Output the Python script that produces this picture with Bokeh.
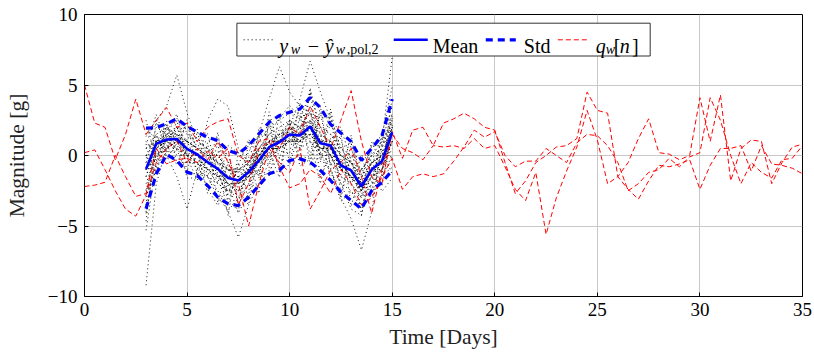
from bokeh.plotting import figure
from bokeh.models import Range1d, FixedTicker, BoxAnnotation, Arrow, Label
from bokeh.embed import file_html
from bokeh.resources import INLINE

# ---------------- data ----------------
days_q = [0.0, 0.5, 1.0, 1.5, 2.0, 2.5, 3.0, 3.5, 4.0, 4.5, 5.0, 5.5, 6.0, 6.5, 7.0, 7.5,
          8.0, 8.5, 9.0, 9.5, 10.0, 10.5, 11.0, 11.5, 12.0, 12.5, 13.0, 13.5, 14.0, 14.5,
          15.0, 15.5, 16.0, 16.5, 17.0, 17.5, 18.0, 18.5, 19.0, 19.5, 20.0, 20.5, 21.0,
          21.5, 22.0, 22.5, 23.0, 23.5, 24.0, 24.5, 25.0, 25.5, 26.0, 26.5, 27.0, 27.5,
          28.0, 28.5, 29.0, 29.5, 30.0, 30.5, 31.0, 31.5, 32.0, 32.5, 33.0, 33.5, 34.0,
          34.5, 35.0]

q_1 = [5.0, 2.3, 2.0, -0.3, 1.5, 4.0, 1.5, 2.5, 3.4, 2.0, 2.3, 1.0, 2.0, 2.4, 2.6, 0.0,
       -0.5, 1.0, 1.2, 0.5, 2.0, 1.5, 3.5, 2.0, 0.5, 2.5, 4.6, 1.0, -1.5, -2.0, 1.7, -0.2,
       1.8, 2.0, 0.7, 2.3, 2.6, 3.0, 2.6, 2.0, 1.8, -0.5, -2.7, -1.8, -0.5, 0.0, 0.6, 0.7,
       1.2, 4.5, 3.2, 3.0, -1.5, -0.5, 1.2, 2.6, 0.2, 0.1, -0.3, 0.0, 4.1, 1.0, 4.3, -1.8,
       0.5, 1.1, 1.0, -2.0, -0.5, 0.6, 0.8]
q_2 = [0.2, 0.4, -1.0, -2.5, -3.8, -4.3, -2.8, -0.5, 0.5, 1.0, -0.5, 0.5, -0.3, 1.0,
       -0.5, -2.0, -5.0, -2.0, 0.5, -0.5, -1.2, 0.5, -3.8, -2.5, -1.0, -0.5, 0.5, -1.5,
       -4.1, -1.0, 1.5, 0.5, 0.2, -0.3, 0.7, 0.6, 0.7, 0.5, 1.2, 0.5, 0.7, -0.8, -2.4,
       -3.2, -1.2, -5.6, -3.0, -1.1, 0.6, 3.2, 1.1, -2.0, -1.5, -2.4, -3.1, -1.8, -0.7,
       -0.8, -0.6, -0.3, -2.4, -0.7, 0.5, 0.5, 0.7, -1.1, 0.7, -0.6, -0.7, -0.9, -1.3]
q_3 = [-2.2, -2.1, -1.9, 0.0, -1.5, -2.9, -2.7, 0.5, -0.6, -0.3, -0.2, -0.5, 0.3, -0.2,
       0.5, -3.5, -2.0, 0.5, 1.0, -0.8, -2.3, -2.0, -1.0, -1.5, -2.7, -1.0, -2.0, -3.5,
       -3.0, -1.5, -0.2, -2.4, -1.5, -1.3, -1.5, -1.3, -0.4, 0.6, 1.8, 1.3, 1.7, 0.0,
       -0.8, -0.4, -0.4, 0.5, 0.0, -0.5, 0.9, 1.5, 1.4, 0.7, -0.5, -2.5, -2.0, -1.2, -1.0,
       -0.2, -0.8, -0.1, 0.2, 4.1, 2.5, 0.0, -2.0, -0.5, -1.2, -1.6, -0.3, -0.2, 0.7]

days_r = [3.0, 3.5, 4.0, 4.5, 5.0, 5.5, 6.0, 6.5, 7.0, 7.5, 8.0, 8.5, 9.0, 9.5, 10.0,
          10.5, 11.0, 11.5, 12.0, 12.5, 13.0, 13.5, 14.0, 14.5, 15.0]

res_mean = [-0.95, 0.83, 1.13, 1.17, 0.47, 0.07, -0.47, -0.95, -1.6, -1.77, -1.18, -0.35,
            0.59, 0.94, 1.49, 1.42, 2.06, 0.87, 0.71, -0.71, -1.06, -2.2, -1.0, -0.4, 1.65]
res_std_upper = [1.94, 1.97, 2.25, 2.6, 2.06, 1.65, 1.3, 1.06, 0.35, 0.12, 0.7, 1.53, 2.36,
                 2.83, 3.07, 3.3, 4.1, 3.4, 2.2, 1.6, 1.0, -0.35, 0.5, 1.4, 4.0]
res_std_lower = [-3.78, -1.3, 0.07, -0.35, -1.18, -1.42, -2.13, -2.96, -3.43, -3.55, -2.96,
                 -2.13, -1.3, -1.06, -0.35, -0.24, -0.47, -1.06, -1.77, -2.6, -3.2, -3.78,
                 -2.48, -1.9, -1.06]

res_01 = [-9.2, -2.0, 0.5, 1.0, 0.3, -0.5, -1.0, -1.5, -2.5, -2.0, -1.5, 0.0, 1.0, 1.5, 2.0, 1.0, 2.5, 1.0, 0.0, -1.5, -2.0, -3.0, -1.5, -1.0, 2.0]
res_02 = [-5.3, -0.5, 1.5, 2.0, 1.0, 0.5, 0.0, -0.5, -1.0, -1.2, -0.5, 0.5, 1.5, 1.0, 2.5, 2.0, 3.0, 1.5, 1.0, 0.0, -0.5, -1.5, -0.5, 0.5, 3.0]
res_03 = [1.5, 2.5, 3.5, 5.7, 3.0, 1.0, 0.5, -0.5, -1.0, -1.5, -1.0, 0.0, 0.5, 0.5, 1.0, 1.5, 2.0, 0.5, 0.5, -1.0, -1.5, -2.5, -1.5, -0.5, 1.0]
res_04 = [0.5, 1.5, 0.0, -1.5, -3.8, -1.0, 2.5, 4.0, 3.5, 0.5, -0.5, 1.0, 2.0, 2.5, 3.0, 2.5, 4.5, 2.0, 1.5, 0.5, -0.5, -1.0, 0.0, 1.0, 3.5]
res_05 = [-1.5, 0.5, 1.0, 0.5, 0.0, -0.5, -1.0, -2.0, -2.5, -3.0, -1.0, 1.5, 4.0, 6.3, 4.5, 3.5, 3.0, 1.0, 0.5, -1.0, -1.5, -2.5, -1.0, -0.5, 1.5]
res_06 = [-0.5, 1.0, 1.5, 1.5, 1.0, 0.5, -0.5, -1.0, -1.5, -2.0, -1.5, -0.5, 0.5, 1.0, 2.0, 4.0, 6.7, 4.5, 2.5, 0.0, -1.0, -2.0, -0.5, 0.0, 2.0]
res_07 = [-2.0, 0.0, 0.5, 1.0, 0.0, -0.5, -1.5, -2.5, -4.0, -5.8, -3.5, -2.0, -0.5, 0.5, 1.0, 1.0, 1.5, 0.5, 0.0, -1.0, -1.5, -2.5, -1.0, -1.0, 1.0]
res_08 = [0.0, 1.0, 1.5, 1.0, 0.5, 0.0, -0.5, -1.0, -2.0, -2.0, -1.0, 0.0, 1.0, 1.5, 1.5, 1.0, 2.0, 0.0, -1.0, -3.0, -4.5, -6.7, -4.0, 1.0, 7.0]
res_09 = [2.5, -0.45, 2.2, 0.4, 2.55, -1.45, 0.9, -3.35, -0.45, -3.55, 1.0, -1.6, 2.4, -1.15, 2.35, -0.2, 4.6, -0.45, 3.1, -2.8, 0.85, -4.25, 0.2, -1.4, 4.15]
res_10 = [-3.5, 2.6, 0.15, 2.5, -1.15, 1.7, -1.5, 0.85, -3.5, -0.5, -3.15, 1.45, -0.85, 2.85, -0.55, 2.85, 0.0, 3.05, -0.7, 1.6, -3.6, -0.85, -2.5, 1.6, -0.35]
res_11 = [1.35, 2.25, 1.8, 2.65, 1.6, 0.65, 1.05, 1.25, -0.45, -1.25, 0.25, 1.45, 1.5, 2.65, 3.55, 2.7, 3.0, 2.65, 2.7, 0.55, 0.85, -1.35, 0.65, 0.75, 2.65]
res_12 = [-2.95, -0.75, 0.25, 0.4, -1.3, -1.3, -1.5, -2.95, -3.9, -3.05, -2.1, -2.15, -1.05, -0.2, -0.4, 0.0, -0.25, -0.25, -1.1, -3.25, -2.55, -3.75, -2.65, -1.4, -0.85]
res_13 = [-0.1, -1.25, 1.35, 2.95, -0.15, -1.75, 0.2, -0.55, -4.25, 0.2, -0.65, -1.45, 3.1, 0.35, 0.15, 3.75, 1.15, -2.0, 1.3, 1.2, -2.1, 0.0, -0.4, -2.2, 2.15]
res_14 = [-4.65, 1.45, -0.2, 0.85, 2.25, 0.35, -2.7, 0.25, 0.1, -2.5, -3.5, 0.35, 0.25, -1.55, 2.5, 0.7, 4.8, 1.55, -1.7, -1.35, 1.45, -2.55, -2.95, 0.45, -1.35]
res_15 = [1.9, 1.15, 0.45, 1.9, 1.9, 1.85, 0.05, -1.95, 0.7, 0.2, -0.8, -1.25, -1.4, 1.3, 2.5, -0.75, -0.25, 1.3, 2.1, 2.0, -0.45, -2.9, 0.8, 1.4, 4.9]
res_16 = [-2.4, -1.1, 2.45, -0.5, -0.5, -0.55, -2.35, -3.55, -2.0, -4.1, -2.6, 2.0, 1.15, -0.75, -0.7, 1.8, 3.45, -1.55, 0.1, -1.95, -3.8, -4.25, -0.85, -2.55, -1.6]
res_17 = [0.75, 2.9, 0.8, -0.65, 1.25, 1.25, 1.55, -1.35, -2.75, -0.7, 1.15, 0.0, -0.3, 1.9, 1.15, 3.4, -0.7, 3.5, -0.9, -3.0, 0.0, -0.15, -1.9, 1.4, 1.9]
res_18 = [-4.1, 0.35, 1.9, 1.45, -1.6, -1.6, -0.8, 1.65, -3.1, -3.95, -0.1, -2.7, 2.55, -0.2, 2.0, 0.5, 2.3, 0.2, 3.3, -0.3, -1.7, -1.7, 0.95, -0.75, 2.9]
res_19 = [1.0, 0.0, 1.0, 2.0, 0.0, 0.5, 0.5, -1.5, -1.0, -2.0, -1.0, 0.5, 0.5, 1.5, 1.0, 2.0, 1.0, 0.5, 0.5, -1.0, -0.5, -2.0, -1.0, -0.5, 1.5]
res_20 = [-1.0, 1.0, 0.5, 1.0, 1.0, -0.5, -0.5, -1.5, -1.5, -1.5, -1.5, -0.5, 1.0, 1.0, 1.5, 1.5, 2.0, 1.0, 1.0, -0.5, -1.5, -2.0, -1.0, -0.5, 1.0]
res_21 = [0.0, 1.5, 2.0, 1.0, 0.0, -1.0, -1.5, -2.0, -2.5, -2.5, -2.0, -1.0, 0.0, 0.5, 1.0, 2.0, 3.0, 2.0, 1.5, 0.5, 0.0, -1.0, 0.0, 0.5, 2.5]
res_22 = [-1.0, 0.0, 0.5, 1.5, 1.0, 0.5, 0.0, -0.5, -1.0, -1.0, -0.5, 0.5, 1.5, 2.0, 2.5, 2.0, 2.5, 0.0, -0.5, -2.0, -2.5, -3.5, -2.0, -1.5, 0.0]
res_23 = [-4.0, 0.5, 1.5, 0.0, 0.0, 0.0, -1.0, -1.0, -2.0, -2.5, -1.5, 0.0, 1.0, 0.5, 2.0, 1.5, 1.5, 1.0, 0.0, -1.0, -1.0, -2.5, -0.5, -0.5, 2.5]
res_24 = [0.5, 1.0, 1.0, 0.5, 0.0, 0.0, -0.5, -1.0, -1.5, -1.0, -1.0, 0.0, 0.5, 1.0, 1.0, 1.0, 1.5, 0.5, 0.5, -0.5, -1.0, -2.0, -1.0, 0.0, 1.0]
res_25 = [-1.5, 1.0, 1.0, 2.0, 1.5, 1.0, 0.5, 0.0, -1.0, -1.5, -1.5, -0.5, 0.5, 0.5, 1.0, 0.5, 1.0, 0.0, 0.0, -1.5, -2.0, -3.0, -2.0, -1.0, 0.5]
res_26 = [0.0, 0.0, 0.5, 1.0, 0.5, 0.0, -1.0, -1.5, -2.0, -2.5, -1.5, 0.0, 1.0, 1.0, 2.0, 2.0, 2.5, 1.5, 1.0, 0.0, -0.5, -2.0, -0.5, 0.0, 2.0]
res_27 = [-2.5, 0.5, 1.0, 1.5, 0.0, -0.5, -0.5, -1.0, -2.0, -2.0, -1.0, -0.5, 0.0, 1.0, 1.0, 1.0, 2.0, 0.0, 0.5, -1.0, -1.5, -2.0, -1.0, -1.0, 1.0]
res_28 = [-0.5, 2.0, 1.5, 1.0, 1.0, 0.5, 0.0, -0.5, -1.5, -1.5, -1.0, 0.0, 0.5, 1.5, 1.5, 1.5, 2.0, 1.0, 1.0, -1.0, -1.0, -2.5, -1.0, -0.5, 1.5]
res_29 = [-1.0, 0.5, 1.0, 0.5, -0.5, -0.5, -1.0, -1.5, -2.0, -2.0, -1.5, -1.0, 0.5, 0.5, 1.5, 1.0, 1.5, 0.5, 0.5, -0.5, -1.5, -2.5, -1.5, -1.0, 1.0]
res_30 = [0.5, 1.0, 2.0, 1.5, 1.0, 0.5, 0.0, 0.0, -1.0, -1.0, -0.5, 0.5, 1.0, 1.5, 2.0, 1.5, 2.5, 1.0, 1.0, 0.0, -0.5, -1.5, -0.5, 0.0, 2.0]

residuals = [res_01, res_02, res_03, res_04, res_05, res_06, res_07, res_08, res_09, res_10,
             res_11, res_12, res_13, res_14, res_15, res_16, res_17, res_18, res_19, res_20,
             res_21, res_22, res_23, res_24, res_25, res_26, res_27, res_28, res_29, res_30]

x_ticks = [0, 5, 10, 15, 20, 25, 30, 35]
y_ticks = [-10, -5, 0, 5, 10]
y_tick_labels = {-10: "\u221210", -5: "\u22125", 0: "0", 5: "5", 10: "10"}

# ---------------- figure ----------------
SERIF = "Liberation Serif"
p = figure(width=814, height=353, x_range=Range1d(0, 35), y_range=Range1d(-10, 10),
           output_backend="svg", toolbar_location=None,
           min_border_left=84, min_border_right=12, min_border_top=14, min_border_bottom=57)
p.background_fill_color = "white"
p.border_fill_color = "white"
p.outline_line_color = "black"
p.outline_line_width = 1

for ax in (p.xaxis[0], p.yaxis[0]):
    ax.axis_line_color = "black"
    ax.major_tick_in = 4
    ax.major_tick_out = 0
    ax.minor_tick_in = 0
    ax.minor_tick_out = 0
    ax.major_tick_line_color = "black"
    ax.major_label_text_font = SERIF
    ax.major_label_text_font_size = "19px"
    ax.major_label_text_color = "black"
    ax.axis_label_text_font = SERIF
    ax.axis_label_text_font_size = "21.5px"
    ax.axis_label_text_font_style = "normal"
    ax.axis_label_text_color = "#222222"

p.xaxis.ticker = FixedTicker(ticks=x_ticks)
p.yaxis.ticker = FixedTicker(ticks=y_ticks)
p.yaxis.major_label_overrides = y_tick_labels
p.xaxis.axis_label = "Time [Days]"
p.yaxis.axis_label = "Magnitude [g]"
p.xaxis.major_label_standoff = 6
p.yaxis.major_label_standoff = 7
p.xaxis.axis_label_standoff = 6
p.yaxis.axis_label_standoff = 16

p.xgrid.ticker = FixedTicker(ticks=x_ticks)
p.ygrid.ticker = FixedTicker(ticks=y_ticks)
for g in (p.xgrid[0], p.ygrid[0]):
    g.grid_line_color = "#c8c8c8"
    g.grid_line_width = 1

# ---------------- glyphs ----------------
p.multi_line(xs=[days_r] * len(residuals), ys=residuals, line_color="black",
             line_width=1, line_dash="1 3", line_alpha=0.9)
for q in (q_1, q_2, q_3):
    p.line(days_q, q, line_color="#ff0000", line_width=1, line_dash="5 3")
p.line(days_r, res_std_upper, line_color="#0000ff", line_width=3.2, line_dash="7 5")
p.line(days_r, res_std_lower, line_color="#0000ff", line_width=3.2, line_dash="7 5")
p.line(days_r, res_mean, line_color="#0000ff", line_width=2.6)

# ---------------- legend (drawn manually to allow math-style labels) ----------------
def dx(px):
    return (px - 84) / 20.5

def dy(py):
    return (155 - py) / 14.1

p.add_layout(BoxAnnotation(left=dx(236.3), right=dx(649.3), top=dy(22.7), bottom=dy(55.5),
                           fill_color="white", fill_alpha=1.0, line_color="#333333",
                           line_width=1, line_alpha=1.0))
ly = dy(39.3)
samples = [
    (243, 273, "black", 1, "1 3"),
    (393, 427, "#0000ff", 2.6, "solid"),
    (485, 515, "#0000ff", 3.2, "7 5"),
    (557, 588, "#ff0000", 1, "5 3"),
]
for x0, x1, col, w, dash in samples:
    p.add_layout(Arrow(end=None, x_start=dx(x0), y_start=ly, x_end=dx(x1), y_end=ly,
                       line_color=col, line_width=w, line_dash=dash))

base = dy(45.5)
sub = dy(49)
texts = [
    (278.5, base, "y", "italic", "20px"),
    (290, sub, "w", "italic", "14px"),
    (307, base, "\u2212", "normal", "20px"),
    (324, base, "\u0177", "italic", "20px"),
    (335, sub, "w", "italic", "14px"),
    (346, sub, ",pol,2", "normal", "14px"),
    (432, base, "Mean", "normal", "20px"),
    (523, base, "Std", "normal", "20px"),
    (595, base, "q", "italic", "20px"),
    (605, sub, "w", "italic", "14px"),
    (613, base, "[", "normal", "20px"),
    (619, base, "n", "italic", "20px"),
    (631, base, "]", "normal", "20px"),
]
for px, yy, t, style, size in texts:
    p.add_layout(Label(x=dx(px), y=yy, text=t, text_font=SERIF, text_font_size=size,
                       text_font_style=style, text_color="black",
                       text_baseline="alphabetic", text_align="left"))

open("out.html", "w").write(file_html(p, INLINE))
